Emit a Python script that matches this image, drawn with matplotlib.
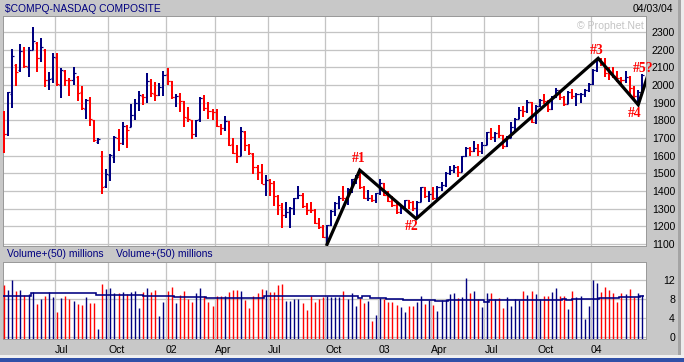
import numpy as np
import matplotlib
matplotlib.use("Agg")
import matplotlib.pyplot as plt
from matplotlib.patches import Rectangle

plt.rcParams['font.family'] = ['Liberation Sans', 'DejaVu Sans']

W, H = 684, 362

# ---------------- data (weekly bars, first week starting Monday 2001-04-02) ----------------
first_week = np.datetime64('2001-04-02')
prev_close = 1840

opens = [1840, 1720, 1950, 2115, 2085, 2190, 2100, 2200, 2240, 2155, 2200, 2030, 2040, 2150, 2000, 2080,
         2030, 2030, 2045, 1960, 1865, 1915, 1800, 1680, 1600, 1430, 1490, 1590, 1700, 1670, 1770, 1765,
         1830, 1900, 1935, 1930, 2020, 1950, 1945, 1990, 2060, 2020, 1930, 1940, 1910, 1815, 1800, 1725,
         1805, 1925, 1870, 1850, 1845, 1770, 1755, 1795, 1665, 1615, 1600, 1735, 1660, 1612, 1535, 1505,
         1440, 1465, 1448, 1374, 1310, 1265, 1280, 1306, 1361, 1380, 1315, 1295, 1291, 1221, 1199, 1139,
         1210, 1287, 1331, 1360, 1359, 1411, 1468, 1478, 1422, 1362, 1363, 1348, 1387, 1448, 1376, 1342,
         1320, 1282, 1310, 1349, 1337, 1305, 1340, 1421, 1369, 1383, 1358, 1425, 1434, 1502, 1520, 1538,
         1510, 1596, 1646, 1627, 1644, 1625, 1663, 1733, 1708, 1731, 1715, 1652, 1702, 1765, 1810, 1858,
         1855, 1905, 1792, 1880, 1915, 1912, 1865, 1932, 1970, 1930, 1893, 1960, 1937, 1949, 1951, 1974,
         2006, 2087, 2140, 2124, 2066, 2064, 2053, 2038, 2030, 2047, 1985, 1940, 1960]
highs = [1850, 1963, 2202, 2119, 2232, 2213, 2213, 2330, 2245, 2264, 2202, 2072, 2180, 2180, 2098, 2085,
         2042, 2100, 2051, 1997, 1920, 1931, 1803, 1699, 1628, 1526, 1607, 1709, 1752, 1793, 1775, 1891,
         1922, 1967, 1948, 2066, 2033, 2019, 2010, 2080, 2095, 2025, 1950, 1957, 1912, 1874, 1800, 1803,
         1931, 1944, 1901, 1863, 1863, 1780, 1826, 1798, 1700, 1662, 1760, 1741, 1665, 1614, 1545, 1555,
         1492, 1470, 1454, 1380, 1332, 1340, 1310, 1362, 1426, 1390, 1330, 1340, 1300, 1250, 1210, 1210,
         1295, 1335, 1370, 1426, 1415, 1470, 1490, 1521, 1430, 1405, 1375, 1390, 1467, 1448, 1400, 1370,
         1345, 1315, 1350, 1350, 1345, 1342, 1425, 1425, 1400, 1420, 1430, 1450, 1505, 1540, 1545, 1540,
         1600, 1650, 1650, 1685, 1665, 1680, 1735, 1755, 1735, 1775, 1715, 1710, 1790, 1812, 1876, 1880,
         1915, 1905, 1885, 1920, 1950, 1915, 1935, 1985, 1970, 1935, 1965, 1980, 1955, 1955, 1975, 2010,
         2090, 2147, 2153, 2153, 2100, 2100, 2080, 2045, 2080, 2050, 1995, 1970, 2065]
lows = [1615, 1709, 1869, 1997, 2075, 2095, 2048, 2198, 2076, 2132, 1986, 1969, 2014, 1997, 1929, 1997,
        1935, 2001, 1910, 1859, 1808, 1769, 1675, 1667, 1383, 1417, 1455, 1558, 1624, 1660, 1643, 1760,
        1803, 1850, 1884, 1897, 1931, 1912, 1938, 1938, 2001, 1922, 1874, 1846, 1765, 1793, 1694, 1705,
        1793, 1850, 1808, 1803, 1765, 1718, 1737, 1656, 1609, 1558, 1596, 1624, 1605, 1496, 1465, 1438,
        1370, 1370, 1313, 1266, 1191, 1245, 1192, 1265, 1355, 1305, 1262, 1275, 1215, 1185, 1133, 1108,
        1200, 1260, 1300, 1345, 1320, 1390, 1440, 1410, 1355, 1345, 1340, 1330, 1380, 1370, 1335, 1310,
        1270, 1271, 1305, 1300, 1285, 1253, 1340, 1360, 1335, 1350, 1350, 1400, 1425, 1490, 1500, 1480,
        1505, 1590, 1600, 1620, 1600, 1610, 1660, 1690, 1680, 1700, 1640, 1650, 1700, 1740, 1810, 1820,
        1840, 1785, 1780, 1875, 1890, 1845, 1860, 1925, 1915, 1880, 1890, 1920, 1880, 1900, 1930, 1960,
        2000, 2075, 2105, 2045, 2030, 2040, 2015, 1995, 2010, 1950, 1910, 1880, 1960]
closes = [1720, 1961, 2163, 2075, 2192, 2107, 2199, 2251, 2150, 2215, 2028, 2034, 2160, 2004, 2084, 2029,
          2029, 2066, 1956, 1867, 1917, 1805, 1687, 1695, 1423, 1498, 1605, 1703, 1671, 1768, 1745, 1828,
          1898, 1941, 1930, 2021, 1953, 1945, 1987, 2059, 2022, 1930, 1937, 1911, 1818, 1805, 1724, 1802,
          1929, 1868, 1851, 1845, 1770, 1756, 1796, 1663, 1613, 1600, 1741, 1661, 1615, 1535, 1505, 1440,
          1463, 1448, 1374, 1319, 1262, 1280, 1306, 1361, 1380, 1315, 1295, 1291, 1221, 1199, 1139, 1210,
          1287, 1331, 1360, 1359, 1411, 1468, 1478, 1422, 1362, 1363, 1348, 1387, 1448, 1376, 1342, 1320,
          1282, 1310, 1349, 1337, 1305, 1340, 1421, 1369, 1383, 1358, 1425, 1434, 1502, 1520, 1538, 1510,
          1596, 1646, 1627, 1644, 1625, 1663, 1733, 1708, 1731, 1715, 1652, 1702, 1765, 1810, 1858, 1855,
          1905, 1792, 1880, 1915, 1912, 1865, 1932, 1970, 1930, 1893, 1960, 1937, 1949, 1951, 1974, 2006,
          2087, 2140, 2124, 2066, 2064, 2053, 2038, 2030, 2047, 1985, 1940, 1960, 2057]
volumes = [10.9, 9.9, 12.0, 9.7, 9.9, 8.8, 9.0, 9.4, 7.0, 8.0, 8.6, 9.4, 8.3, 5.3, 8.1, 8.6,
           8.0, 7.6, 6.9, 6.7, 8.3, 7.2, 7.2, 1.6, 11.2, 10.1, 10.2, 9.2, 9.2, 9.4, 9.0, 9.4,
           9.7, 6.0, 9.4, 10.4, 9.5, 9.9, 4.4, 7.4, 9.7, 10.6, 7.2, 8.8, 9.7, 8.0, 7.4, 9.2,
           10.4, 8.5, 7.4, 6.4, 8.5, 8.5, 8.5, 9.5, 9.9, 9.8, 9.6, 7.7, 6.0, 8.7, 9.2, 10.0,
           9.8, 9.4, 9.4, 11.0, 11.1, 7.5, 7.5, 7.9, 7.9, 7.1, 5.6, 8.6, 7.3, 7.9, 8.4, 8.7,
           8.4, 8.4, 8.4, 9.6, 8.0, 9.3, 6.4, 8.2, 7.1, 7.5, 3.3, 4.5, 8.2, 7.9, 7.3, 7.3,
           6.8, 6.3, 5.2, 6.5, 6.5, 7.3, 8.5, 7.0, 7.7, 6.6, 5.4, 7.7, 7.9, 9.1, 9.2, 8.2,
           8.4, 12.4, 9.2, 9.6, 7.9, 6.3, 9.2, 9.2, 7.9, 8.2, 6.1, 8.4, 6.5, 8.0, 7.8, 9.6,
           8.9, 9.6, 9.1, 8.0, 8.7, 8.7, 9.4, 10.3, 8.7, 8.7, 5.8, 9.6, 8.4, 8.5, 3.7, 6.4,
           11.9, 11.4, 9.4, 10.6, 9.8, 9.2, 7.3, 9.2, 9.1, 10.0, 8.4, 9.2, 8.9]

# 50-period volume average, read as steps (bar-index edges and level)
ma_edges = [-0.25, 6.5, 22.5, 34, 41.5, 49.5, 63.5, 67.5, 75.5, 86.5, 87.5, 89.5, 93.5,
            97.5, 105.5, 108.5, 117.5, 118.5, 136.5, 137.5, 139, 144, 145.5, 150.5, 155.5, 156.5]
ma_values = [8.7, 9.2, 8.9, 8.7, 8.4, 8.2, 8.5, 8.7, 8.5, 8.2, 8.5, 8.2, 8.0,
             7.8, 7.6, 7.7, 7.3, 7.7, 7.9, 7.7, 7.9, 8.0, 8.2, 8.4, 8.7]

month_starts = ['2001-07-01', '2001-10-01', '2002-01-01', '2002-04-01', '2002-07-01', '2002-10-01',
                '2003-01-01', '2003-04-01', '2003-07-01', '2003-10-01', '2004-01-01']
month_labels = ['Jul', 'Oct', '02', 'Apr', 'Jul', 'Oct', '03', 'Apr', 'Jul', 'Oct', '04']
price_ticks = list(range(1100, 2301, 100))
vol_ticks = [0, 4, 8, 12]

# hand-drawn wave count (bar index, price)
wave_x = [79.0, 87.0, 100.8, 145.3, 155.1, 157.3]
wave_y = [1098, 1518, 1243, 2151, 1888, 2044]
wave_labels = ['#1', '#2', '#3', '#4', '#5?']
wave_label_x = [86.8, 99.7, 145.0, 154.1, 153.8]
wave_label_y = [1583, 1197, 2193, 1837, 2091]

# ---------------- drawing ----------------
NAVY = '#000080'
RED = '#FF0000'
GRID = '#C4C4C4'
BG = '#C8C8C8'
PX = 0.72  # one pixel in points

n = len(closes)
x = np.arange(n)
prevs = [prev_close] + closes[:-1]
cols = [NAVY if c > p else RED for c, p in zip(closes, prevs)]

weeks = first_week + np.arange(n) * np.timedelta64(7, 'D')
grid_x = [int(np.searchsorted(weeks, np.datetime64(m))) - 0.5 for m in month_starts]

fig = plt.figure(figsize=(W / 100, H / 100), dpi=100, facecolor=BG)

axp = fig.add_axes([3 / W, 1 - 246 / H, 643 / W, 230 / H])
axv = fig.add_axes([3 / W, 1 - 339 / H, 643 / W, 77 / H])

for ax in (axp, axv):
    ax.set_facecolor('white')
    ax.set_xlim(-0.25, 157.0)
    ax.set_xticks(grid_x)
    ax.grid(True, color=GRID, linewidth=1.3 * PX, zorder=0)
    ax.set_axisbelow(True)
    for s in ax.spines.values():
        s.set_color('#9A9A9A')
        s.set_linewidth(PX)
    ax.tick_params(axis='both', length=0, labelsize=7.6, colors='black')
    ax.yaxis.tick_right()

# price panel
axp.set_ylim(1088.7, 2390.5)
axp.set_yticks(price_ticks)
axp.set_yticklabels([str(v) for v in price_ticks])
axp.tick_params(axis='y', pad=20.9)
for lab in axp.get_yticklabels():
    lab.set_ha('right')
axp.tick_params(axis='x', labelbottom=False)

axp.vlines(x, lows, highs, colors=cols, linewidth=2.0 * PX, zorder=3)
axp.hlines(opens, x - 0.5, x, colors=cols, linewidth=1.2 * PX, zorder=3)
axp.hlines(closes, x, x + 0.5, colors=cols, linewidth=1.2 * PX, zorder=3)

axp.plot(wave_x, wave_y, color='black', linewidth=3.2 * PX, solid_joinstyle='miter', zorder=5)
for lx, ly, t in zip(wave_label_x, wave_label_y, wave_labels):
    ha = 'left' if t == '#5?' else 'center'
    axp.text(lx, ly, t, color=RED, fontsize=9.8, fontweight='bold', ha=ha, va='center',
             family=['Liberation Serif', 'DejaVu Serif'], zorder=6, clip_on=False)

# volume panel
vol_bottom = -0.5
axv.set_ylim(vol_bottom, 15.8)
axv.set_yticks(vol_ticks)
axv.set_yticklabels([str(v) for v in vol_ticks])
axv.tick_params(axis='y', pad=20.9)
for lab in axv.get_yticklabels():
    lab.set_ha('right')
axv.set_xticklabels(month_labels)
axv.tick_params(axis='x', pad=4.5)
for lab in axv.get_xticklabels():
    lab.set_ha('left')

axv.vlines(x, vol_bottom, volumes, colors=cols, linewidth=1.4 * PX, zorder=3)
axv.stairs(ma_values, ma_edges, baseline=None, color=NAVY, linewidth=1.6 * PX, zorder=4)

# header texts
fig.text(5 / W, 1 - 8.5 / H, '$COMPQ-NASDAQ COMPOSITE', color=NAVY, fontsize=7.4,
         ha='left', va='center')
fig.text(673 / W, 1 - 8.5 / H, '04/03/04', color='black', fontsize=7.6, ha='right', va='center')
fig.text(644 / W, 1 - 26 / H, '\u00a9 Prophet.Net', color='#C4C4C4', fontsize=7.6,
         ha='right', va='center', zorder=10)
fig.text(7 / W, 1 - 254 / H, 'Volume+(50) millions', color=NAVY, fontsize=7.5, ha='left', va='center')
fig.text(116 / W, 1 - 254 / H, 'Volume+(50) millions', color=NAVY, fontsize=7.5, ha='left', va='center')

# window chrome (right and bottom edges)
fig.patches.append(Rectangle((678 / W, 0), 3 / W, 1, transform=fig.transFigure,
                             facecolor='#A4A4A4', edgecolor='none', zorder=-1))
fig.patches.append(Rectangle((681 / W, 0), 3 / W, 1, transform=fig.transFigure,
                             facecolor='#ECECEC', edgecolor='none', zorder=-1))
fig.patches.append(Rectangle((0, 0), 1, 4 / H, transform=fig.transFigure,
                             facecolor='#3050A8', edgecolor='none', zorder=-1))
fig.patches.append(Rectangle((0, 4 / H), 1, 3 / H, transform=fig.transFigure,
                             facecolor='#F0F0F0', edgecolor='none', zorder=-1))

fig.savefig('out.png', dpi=100, facecolor=BG)
